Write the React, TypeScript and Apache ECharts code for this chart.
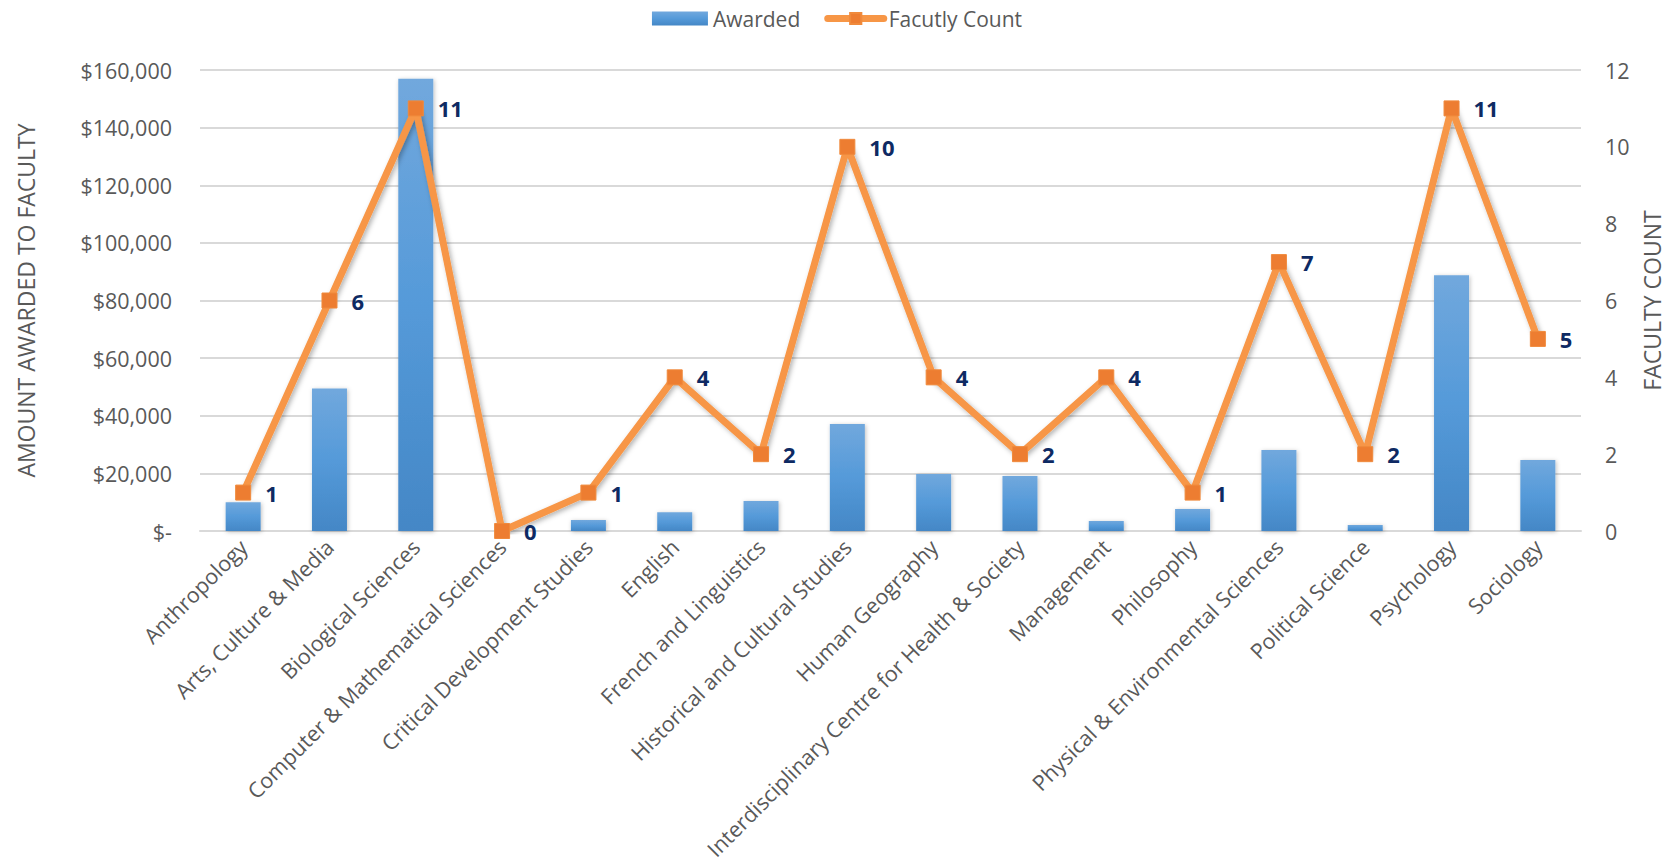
import React, { useEffect, useRef } from "react";
import * as echarts from "echarts";

const categories = [
  "Anthropology",
  "Arts, Culture & Media",
  "Biological Sciences",
  "Computer & Mathematical Sciences",
  "Critical Development Studies",
  "English",
  "French and Linguistics",
  "Historical and Cultural Studies",
  "Human Geography",
  "Interdisciplinary Centre for Health & Society",
  "Management",
  "Philosophy",
  "Physical & Environmental Sciences",
  "Political Science",
  "Psychology",
  "Sociology",
];

const awarded = [10000, 49500, 157000, 0, 3800, 6500, 10400, 37100, 19800, 19100, 3500, 7600, 28100, 2100, 88800, 24600];
const facultyCount = [1, 6, 11, 0, 1, 4, 2, 10, 4, 2, 4, 1, 7, 2, 11, 5];

const FONT = "'Open Sans', sans-serif";
const GRAY = "#595959";

function fmtMoney(v: number) {
  if (v === 0) return "$-";
  return "$" + v.toLocaleString("en-US");
}

export default function App() {
  const ref = useRef<HTMLDivElement>(null);
  useEffect(() => {
    document.body.style.margin = "0";
    const chart = echarts.init(ref.current!, undefined, { renderer: "svg" });
    chart.setOption({
      animation: false,
      textStyle: { fontFamily: FONT },
      legend: {
        top: 3,
        left: "center",
        itemGap: 24,
        itemWidth: 56,
        itemHeight: 14,
        textStyle: { color: GRAY, fontSize: 21, fontFamily: FONT },
        data: [
          { name: "Awarded", icon: "rect" },
          {
            name: "Facutly Count",
            lineStyle: { width: 7, cap: "round", color: "#f79646" },
          },
        ],
      },
      grid: {
        left: 200,
        right: 93,
        top: 70,
        bottom: 335,
        containLabel: false,
        outerBoundsMode: "none",
      },
      xAxis: {
        type: "category",
        data: categories,
        axisTick: { show: false },
        axisLine: { lineStyle: { color: "#d9d9d9", width: 2 } },
        axisLabel: {
          rotate: 45,
          interval: 0,
          margin: 12,
          color: GRAY,
          fontSize: 21.5,
          fontFamily: FONT,
        },
      },
      yAxis: [
        {
          type: "value",
          min: 0,
          max: 160000,
          interval: 20000,
          name: "AMOUNT AWARDED TO FACULTY",
          nameLocation: "middle",
          nameGap: 163,
          nameTextStyle: { color: GRAY, fontSize: 23, fontFamily: FONT },
          axisLine: { show: false },
          axisTick: { show: false },
          splitLine: { lineStyle: { color: "#d9d9d9", width: 2 } },
          axisLabel: {
            color: GRAY,
            fontSize: 21.5,
            fontFamily: FONT,
            margin: 28,
            formatter: (v: number) => fmtMoney(v),
          },
        },
        {
          type: "value",
          min: 0,
          max: 12,
          interval: 2,
          name: "FACULTY COUNT",
          nameLocation: "middle",
          nameGap: 55,
          nameRotate: 90,
          nameTextStyle: { color: GRAY, fontSize: 23, fontFamily: FONT },
          axisLine: { show: false },
          axisTick: { show: false },
          splitLine: { show: false },
          axisLabel: { color: GRAY, fontSize: 21.5, fontFamily: FONT, margin: 24 },
        },
      ],
      series: [
        {
          name: "Awarded",
          type: "bar",
          data: awarded,
          yAxisIndex: 0,
          barWidth: 35,
          itemStyle: {
            color: new echarts.graphic.LinearGradient(0, 0, 0, 1, [
              { offset: 0, color: "#71a8dd" },
              { offset: 0.5, color: "#559ad9" },
              { offset: 1, color: "#4487c6" },
            ]),
            shadowColor: "rgba(0,0,0,0.25)",
            shadowBlur: 4,
            shadowOffsetX: 1,
            shadowOffsetY: 1,
          },
        },
        {
          name: "Facutly Count",
          type: "line",
          data: facultyCount,
          yAxisIndex: 1,
          symbol: "rect",
          symbolSize: 15,
          lineStyle: {
            color: "#f79646",
            width: 7,
            shadowColor: "rgba(0,0,0,0.3)",
            shadowBlur: 5,
            shadowOffsetX: 2,
            shadowOffsetY: 2,
          },
          itemStyle: { color: "#ed7d31", borderColor: "#f08a3c", borderWidth: 1 },
          label: {
            show: true,
            position: "right",
            distance: 14,
            color: "#0e2a63",
            fontWeight: "bold",
            fontSize: 22,
            fontFamily: FONT,
          },
        },
      ],
    });
    return () => chart.dispose();
  }, []);
  return <div ref={ref} style={{ width: 1674, height: 866 }} />;
}
